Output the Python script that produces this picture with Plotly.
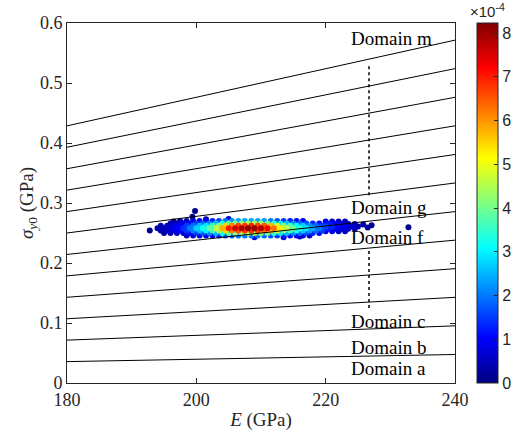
import plotly.graph_objects as go

# ---------------------------------------------------------------- data
E_RANGE = [180, 240]
SIGMA_RANGE = [0, 0.6]
X_TICKS = [180, 200, 220, 240]
Y_TICKS = [0, 0.1, 0.2, 0.3, 0.4, 0.5, 0.6]
CBAR_TICKS = [0, 1, 2, 3, 4, 5, 6, 7, 8]
CBAR_MAX = 8.23  # density, in units of 1e-4

# domain boundaries: sigma_y0 = slope * E (lines through the origin)
boundary_slopes = [0.000198, 0.000397, 0.000595, 0.000794, 0.000992, 0.001190,
                   0.001389, 0.001587, 0.001786, 0.001984, 0.002183, 0.002381]

# dotted guides marking the skipped domains (d-e and h-l)
guide_E = 226.7
guide_segments = [[0.125, 0.2248], [0.313, 0.533]]

# domain labels
label_text = ["Domain a", "Domain b", "Domain c", "Domain f", "Domain g", "Domain m"]
label_sigma = [0.025, 0.060, 0.1033, 0.2433, 0.2933, 0.575]
label_E = 223.6

# sample cloud, stored row by row: sigma of the row, E of each sample, density (1e-4)
row_sigma = [0.246, 0.250, 0.254, 0.258, 0.262, 0.266, 0.270,
             0.253, 0.257, 0.261, 0.265, 0.269]
row_E = [
    [198.5, 199.5, 200.5, 201.5, 202.5, 203.5, 204.5, 205.5, 206.5, 207.5,
     208.5, 209.5, 210.5, 211.5, 212.5, 213.5, 214.5, 215.5, 216.5, 217.5],
    [195, 196, 197, 198, 199, 200, 201, 202, 203, 204, 205, 206, 207, 208, 209,
     210, 211, 212, 213, 214, 215, 216, 217, 218, 219],
    [194.5, 195.5, 196.5, 197.5, 198.5, 199.5, 200.5, 201.5, 202.5, 203.5,
     204.5, 205.5, 206.5, 207.5, 208.5, 209.5, 210.5, 211.5, 212.5, 213.5,
     214.5, 215.5, 216.5, 217.5, 218.5, 219.5],
    [194, 195, 196, 197, 198, 199, 200, 201, 202, 203, 204, 205, 206, 207, 208,
     209, 210, 211, 212, 213, 214, 215, 216, 217, 218, 219],
    [194.5, 195.5, 196.5, 197.5, 198.5, 199.5, 200.5, 201.5, 202.5, 203.5,
     204.5, 205.5, 206.5, 207.5, 208.5, 209.5, 210.5, 211.5, 212.5, 213.5,
     214.5, 215.5, 216.5, 217.5, 218.5, 219.5],
    [196, 197, 198, 199, 200, 201, 202, 203, 204, 205, 206, 207, 208, 209, 210,
     211, 212, 213, 214, 215, 216, 217, 218, 219],
    [197.5, 198.5, 199.5, 200.5, 201.5, 202.5, 203.5, 204.5, 205.5, 206.5,
     207.5, 208.5, 209.5, 210.5, 211.5, 212.5, 213.5, 214.5, 215.5, 216.5],
    [220, 221, 222, 223],
    [220.5, 221.5, 222.5, 223.5, 224.5],
    [220, 221, 222, 223, 224, 225],
    [220.5, 221.5, 222.5, 223.5, 224.5],
    [220, 221, 222, 223],
]
row_density = [
    [0.43, 0.59, 0.74, 0.88, 1.05, 1.3, 1.6, 1.83, 1.94, 2.0,
     2.01, 1.98, 1.89, 1.7, 1.45, 1.24, 1.08, 0.93, 0.79, 0.66],
    [0.28, 0.39, 0.55, 0.77, 1.1, 1.49, 1.76, 2.09, 2.53, 3.19, 3.85, 4.18, 4.35,
     4.46, 4.4, 4.29, 4.02, 3.47, 2.92, 2.53, 2.2, 1.87, 1.6, 1.32, 1.1],
    [0.34, 0.51, 0.72, 1.02, 1.45, 2.0, 2.51, 2.98, 3.57, 4.42,
     5.44, 6.21, 6.59, 6.8, 6.84, 6.72, 6.42, 5.78, 4.93, 4.21,
     3.66, 3.15, 2.68, 2.25, 1.87, 1.53],
    [0.3, 0.5, 0.7, 1.0, 1.4, 2.0, 2.7, 3.2, 3.8, 4.6, 5.8, 7.0, 7.6, 7.9, 8.1,
     8.0, 7.8, 7.3, 6.3, 5.3, 4.6, 4.0, 3.4, 2.9, 2.4, 2.0],
    [0.36, 0.49, 0.75, 0.98, 1.5, 1.95, 2.55, 2.9, 3.6, 4.3,
     5.5, 6.1, 6.7, 6.75, 6.9, 6.65, 6.5, 5.7, 5.0, 4.1,
     3.7, 3.1, 2.7, 2.2, 1.9, 1.5],
    [0.39, 0.55, 0.77, 1.1, 1.49, 1.76, 2.09, 2.53, 3.19, 3.85, 4.18, 4.35,
     4.46, 4.4, 4.29, 4.02, 3.47, 2.92, 2.53, 2.2, 1.87, 1.6, 1.32, 1.1],
    [0.36, 0.51, 0.71, 0.89, 1.05, 1.26, 1.56, 1.92, 2.19, 2.33,
     2.4, 2.42, 2.37, 2.27, 2.04, 1.74, 1.49, 1.29, 1.11, 0.95],
    [0.88, 0.72, 0.55, 0.44],
    [1.23, 0.98, 0.77, 0.6, 0.43],
    [1.6, 1.3, 1.0, 0.8, 0.6, 0.4],
    [1.23, 0.98, 0.77, 0.6, 0.43],
    [0.88, 0.72, 0.55, 0.44],
]

# isolated samples around the cloud
stray_E = [199.8, 199.4, 192.8, 232.8, 227.1, 226.5, 225.8, 196.5, 201.5, 205.0,
           209.0, 213.5, 216.0]
stray_sigma = [0.2867, 0.2770, 0.2540, 0.2595, 0.2630, 0.2590, 0.2640, 0.2690,
               0.2730, 0.2735, 0.2430, 0.2430, 0.2440]
stray_density = [0.10, 0.12, 0.10, 0.05, 0.20, 0.25, 0.30, 0.10, 0.30, 0.60,
                 0.80, 0.60, 0.40]

# ---------------------------------------------------------------- assemble samples
pts = []
for s, es, ds in zip(row_sigma, row_E, row_density):
    for e, d in zip(es, ds):
        pts.append((e, s, d))
pts += list(zip(stray_E, stray_sigma, stray_density))
pts.sort(key=lambda p: p[2])  # densest samples drawn last
cloud_E = [p[0] for p in pts]
cloud_sigma = [p[1] for p in pts]
cloud_density = [p[2] for p in pts]

JET = [[0.0, "rgb(0,0,128)"], [0.125, "rgb(0,0,255)"], [0.375, "rgb(0,255,255)"],
       [0.625, "rgb(255,255,0)"], [0.875, "rgb(255,0,0)"], [1.0, "rgb(128,0,0)"]]

SERIF = "Liberation Serif, Times New Roman, serif"
SANS = "Liberation Sans, Arial, sans-serif"
AXIS_COLOR = "#262626"

fig = go.Figure()

fig.add_trace(go.Scatter(
    x=cloud_E, y=cloud_sigma, mode="markers",
    marker=dict(size=6, color=cloud_density, colorscale=JET, cmin=0, cmax=CBAR_MAX,
                line=dict(width=0),
                colorbar=dict(x=1.0567, xanchor="left", xpad=0, ypad=0,
                              y=0.5, yanchor="middle", len=1, lenmode="fraction",
                              thickness=21, outlinewidth=1, outlinecolor=AXIS_COLOR,
                              ticks="inside", ticklen=4, tickcolor=AXIS_COLOR,
                              tickvals=CBAR_TICKS,
                              tickfont=dict(family=SANS, size=16, color=AXIS_COLOR))),
    showlegend=False, hoverinfo="skip"))

for slope in boundary_slopes:
    fig.add_trace(go.Scatter(
        x=E_RANGE, y=[slope * E_RANGE[0], slope * E_RANGE[1]], mode="lines",
        line=dict(color="black", width=1), showlegend=False, hoverinfo="skip"))

for lo, hi in guide_segments:
    fig.add_trace(go.Scatter(
        x=[guide_E, guide_E], y=[lo, hi], mode="lines",
        line=dict(color="black", width=1.5, dash="dot"),
        showlegend=False, hoverinfo="skip"))

for txt, s in zip(label_text, label_sigma):
    fig.add_annotation(x=label_E, y=s, text=txt, showarrow=False,
                       xanchor="left", yanchor="middle",
                       font=dict(family=SERIF, size=19, color="black"))

fig.add_annotation(xref="paper", yref="paper", x=1.0825, y=1.035,
                   text="×10<sup>-4</sup>", showarrow=False,
                   xanchor="center", yanchor="middle",
                   font=dict(family=SANS, size=15, color=AXIS_COLOR))

axis_common = dict(showline=True, linecolor=AXIS_COLOR, linewidth=1, mirror="ticks",
                   ticks="inside", ticklen=5, tickcolor=AXIS_COLOR,
                   showgrid=False, zeroline=False,
                   tickfont=dict(family=SERIF, size=18, color=AXIS_COLOR))

fig.update_xaxes(range=E_RANGE, tickvals=X_TICKS,
                 title=dict(text="<i>E</i> (GPa)", standoff=4,
                            font=dict(family=SERIF, size=19, color=AXIS_COLOR)),
                 **axis_common)
fig.update_yaxes(range=SIGMA_RANGE, tickvals=Y_TICKS, ticktext=[str(v) for v in Y_TICKS],
                 title=dict(text="<i>σ</i><sub><i>y</i>0</sub> (GPa)", standoff=0,
                            font=dict(family=SERIF, size=19, color=AXIS_COLOR)),
                 **axis_common)

fig.update_layout(width=519, height=439,
                  margin=dict(l=67, r=64, t=23, b=56, autoexpand=False),
                  paper_bgcolor="white", plot_bgcolor="white")

fig.write_html("out.html")
